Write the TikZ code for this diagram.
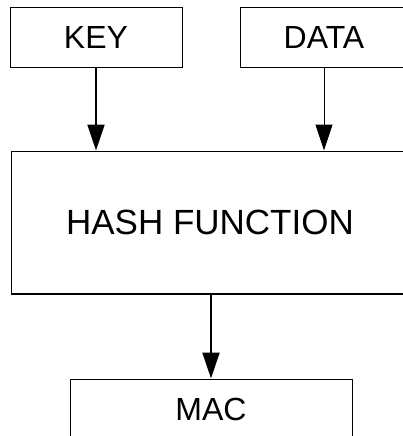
\documentclass[tikz,border=0pt]{standalone}
\usepackage{fontspec}
\setmainfont{Liberation Sans}
\usetikzlibrary{arrows.meta}

\begin{document}
\begin{tikzpicture}[x=1pt, y=-1pt,
    box/.style={draw, line width=1pt, inner sep=0pt, font=\fontsize{32}{36}\selectfont},
    flow/.style={-{Triangle[length=26pt,width=17pt]}}]
	\useasboundingbox (0,0) rectangle (403,436);

	% Inputs
	\node[box, minimum width=172pt, minimum height=59pt] (key) at (96,37.5) {KEY};
	\node[box, minimum width=168pt, minimum height=59pt] (data) at (324,37.5) {DATA};

	% Hash function
	\node[box, minimum width=398pt, minimum height=142pt, font=\fontsize{35}{40}\selectfont] (hash) at (210,222) {\raisebox{-4pt}{HASH FUNCTION}};
	\draw[line width=2pt] (hash.south west) -- (hash.south east);

	% Output
	\node[box, minimum width=282pt, minimum height=60pt] (mac) at (211,409) {MAC};

	% Arrows
	\draw[flow, line width=2pt] (key.south) -- (key.south |- hash.north);
	\draw[flow, line width=1pt] (data.south) -- (data.south |- hash.north);
	\draw[flow, line width=2pt] (mac.north |- hash.south) -- (mac.north);
\end{tikzpicture}
\end{document}
